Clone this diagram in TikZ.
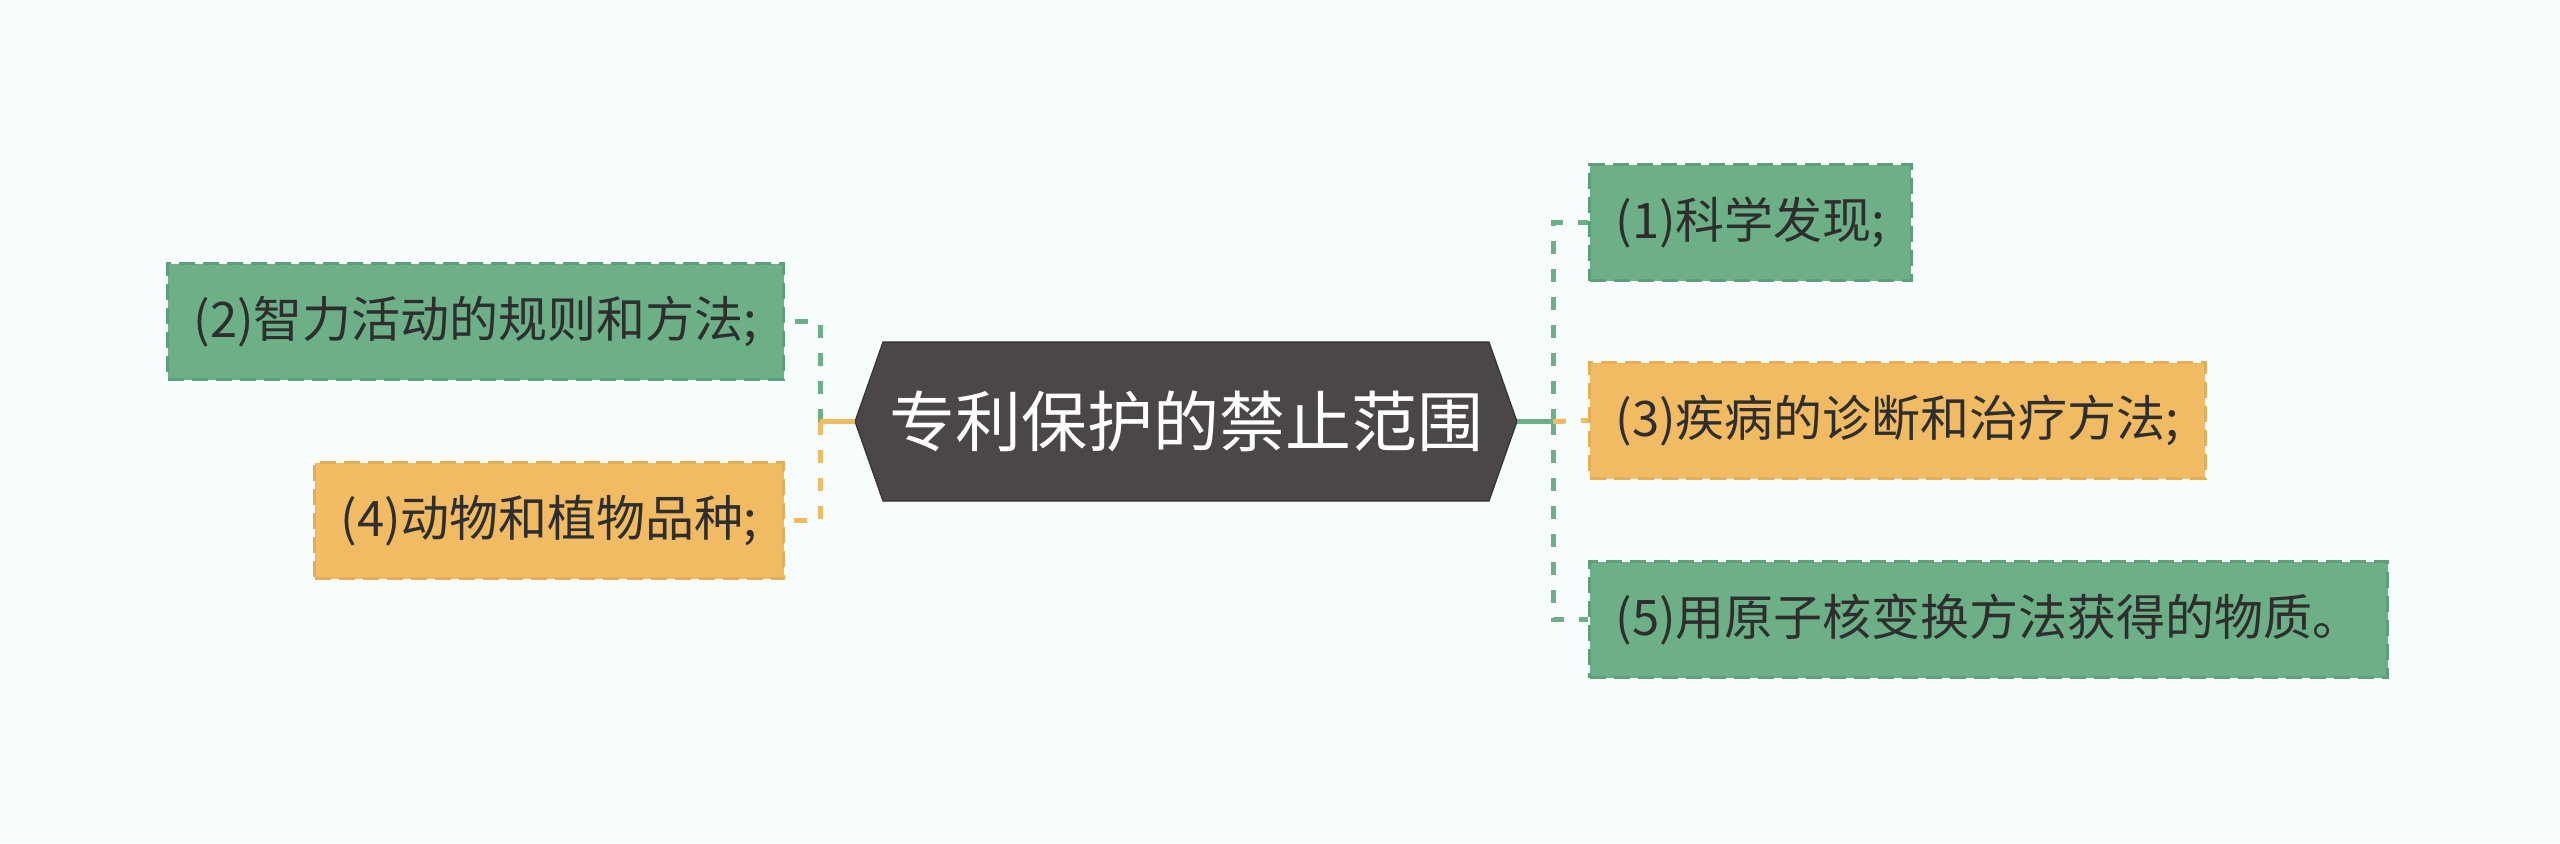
\documentclass[tikz,border=0pt]{standalone}
\usepackage{fontspec}
\setmainfont{Noto Sans CJK SC}
\usetikzlibrary{positioning}
\definecolor{bgcol}{HTML}{F7FDFD}
\definecolor{leafgreen}{HTML}{6DAF86}
\definecolor{leafgreenline}{HTML}{5E9F78}
\definecolor{leaforange}{HTML}{F0BB63}
\definecolor{leaforangeline}{HTML}{E3AE58}
\definecolor{rootgray}{HTML}{4B4747}
\definecolor{textgray}{HTML}{2E2E2E}

\begin{document}
\begin{tikzpicture}[x=0.5pt, y=-0.5pt,
  leaf/.style={draw, line width=1.5pt, dash pattern=on 8pt off 4pt, minimum height=58pt,
    inner xsep=13pt, inner ysep=0pt, text=textgray, font=\fontsize{24.5pt}{29pt}\selectfont},
  greenleaf/.style={leaf, fill=leafgreen, draw=leafgreenline},
  orangeleaf/.style={leaf, fill=leaforange, draw=leaforangeline},
  branch/.style={line width=2.5pt, dash pattern=on 6.5pt off 7.5pt},
  stem/.style={line width=2.5pt}]
  % canvas
  \fill[bgcol] (0,0) rectangle (2560,843);
  \useasboundingbox (0,0) rectangle (2560,843);
  % root
  \coordinate (rootW) at (855,421.5);
  \coordinate (rootE) at (1517,421.5);
  \filldraw[fill=rootgray, draw=rootgray!70!black, line width=0.6pt]
    (rootW) -- (883,342) -- (1489,342) -- (rootE) -- (1489,501) -- (883,501) -- cycle;
  \node[text=white, font=\fontsize{33pt}{40pt}\selectfont] (root) at (1186,421.5) {专利保护的禁止范围};
  % left branches
  \node[greenleaf, anchor=east] (rule) at (785,321.5) {(2)智力活动的规则和方法;};
  \node[orangeleaf, anchor=east] (breed) at (785,520.5) {(4)动物和植物品种;};
  % right branches
  \node[greenleaf, anchor=west] (find) at (1588,222.5) {(1)科学发现;};
  \node[orangeleaf, anchor=west] (cure) at (1588,420.5) {(3)疾病的诊断和治疗方法;};
  \node[greenleaf, anchor=west] (atom) at (1588,619.5) {(5)用原子核变换方法获得的物质。};
  % connectors
  \coordinate (jL) at (820,421.5);
  \coordinate (jR) at (1553,421.5);
  \draw[branch, leafgreen] (jL) |- (rule.east);
  \draw[branch, leaforange] (jL) |- (breed.east);
  \draw[stem, leaforange] (rootW) -- (jL);
  \draw[branch, leafgreen] (jR) |- (find.west);
  \draw[branch, leafgreen] (jR) |- (atom.west);
  \draw[branch, leaforange] (jR) -- (cure.west);
  \draw[stem, leafgreen] (rootE) -- (jR);
\end{tikzpicture}
\end{document}
